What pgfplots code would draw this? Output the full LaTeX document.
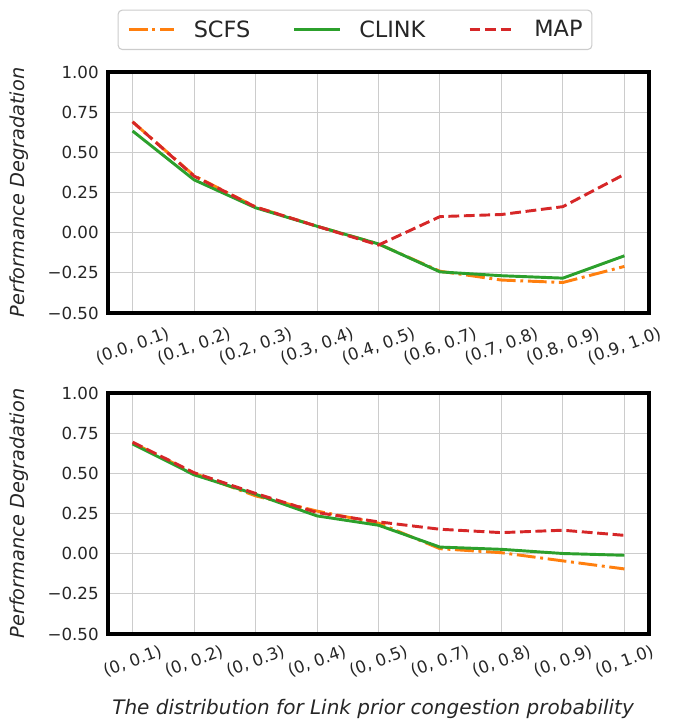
\documentclass[border=0pt]{standalone}
\usepackage{fontspec}
\setmainfont{DejaVu Sans}
\usepackage{pgfplots}
\pgfplotsset{compat=1.18}

\definecolor{scfs}{HTML}{FF7F0E}
\definecolor{clink}{HTML}{2CA02C}
\definecolor{mapc}{HTML}{D62728}
\definecolor{txt}{HTML}{262626}
\definecolor{gridc}{HTML}{CCCCCC}

\pgfplotsset{
  perf/.style={
    scale only axis,
    width=405.75pt, height=180.75pt,
    xmin=-0.4, xmax=8.4, ymin=-0.5, ymax=1.0,
    xtick={0,1,...,8},
    ytick={-0.5,-0.25,0,0.25,0.5,0.75,1.0},
    yticklabels={−0.50,−0.25,0.00,0.25,0.50,0.75,1.00},
    grid=major,
    grid style={gridc, line width=0.75pt},
    axis line style={draw=none},
    after end axis/.code={\draw[black, line width=2.3pt] (rel axis cs:0,0) rectangle (rel axis cs:1,1);},
    major tick length=0pt,
    tick label style={font=\fontsize{12.5}{15}\selectfont, text=txt},
    yticklabel style={xshift=-3.5pt},
    ylabel={Performance Degradation},
    ylabel style={font=\fontsize{14.5}{17}\selectfont\itshape, text=txt,
      at={(axis description cs:-0.1645,0.5)}, anchor=center},
  },
  scfsline/.style={scfs, line width=2.2pt, dash pattern=on 14.1pt off 3.5pt on 2.2pt off 3.5pt},
  clinkline/.style={clink, line width=2.2pt},
  mapline/.style={mapc, line width=2.2pt, dash pattern=on 8.1pt off 3.5pt},
}

\begin{document}
\begin{tikzpicture}
\begin{axis}[perf,
    xticklabels={{(0.0, 0.1)},{(0.1, 0.2)},{(0.2, 0.3)},{(0.3, 0.4)},{(0.4, 0.5)},{(0.6, 0.7)},{(0.7, 0.8)},{(0.8, 0.9)},{(0.9, 1.0)}},
    xticklabel style={yshift=-24.75pt, rotate=20, anchor=center},
    legend columns=3,
    legend style={at={(axis description cs:0.4566,1)}, anchor=south, yshift=16.5pt,
      draw=gridc, rounded corners=3pt, line width=0.8pt,
      font=\fontsize{16.8}{20}\selectfont, text=txt,
      inner xsep=7pt, inner ysep=7.75pt,
      nodes={inner sep=0pt},
      /tikz/every odd column/.append style={column sep=13.5pt},
      /tikz/every even column/.append style={column sep=32pt}},
    legend image code/.code={\draw[#1] (0pt,0pt) -- (34pt,0pt);},
  ]
\addplot[scfsline] coordinates {(0,0.69) (1,0.355) (2,0.16) (3,0.04) (4,-0.07) (5,-0.24) (6,-0.295) (7,-0.31) (8,-0.21)};
\addlegendentry{SCFS}
\addplot[clinkline] coordinates {(0,0.633) (1,0.329) (2,0.155) (3,0.04) (4,-0.07) (5,-0.244) (6,-0.268) (7,-0.283) (8,-0.144)};
\addlegendentry{CLINK}
\addplot[mapline] coordinates {(0,0.69) (1,0.352) (2,0.16) (3,0.04) (4,-0.077) (5,0.10) (6,0.113) (7,0.162) (8,0.363)};
\addlegendentry{MAP}
\end{axis}

\begin{axis}[perf, at={(0pt,-240.75pt)},
    xticklabels={{(0, 0.1)},{(0, 0.2)},{(0, 0.3)},{(0, 0.4)},{(0, 0.5)},{(0, 0.7)},{(0, 0.8)},{(0, 0.9)},{(0, 1.0)}},
    xticklabel style={yshift=-20.6pt, rotate=20, anchor=center},
    xlabel={The distribution for Link prior congestion probability},
    xlabel style={font=\fontsize{15}{18}\selectfont\itshape, text=txt,
      at={(axis description cs:0.49,-0.312)}, anchor=center},
  ]
\addplot[scfsline] coordinates {(0,0.69) (1,0.50) (2,0.36) (3,0.265) (4,0.19) (5,0.031) (6,0.006) (7,-0.045) (8,-0.095)};
\addplot[clinkline] coordinates {(0,0.683) (1,0.491) (2,0.37) (3,0.235) (4,0.177) (5,0.041) (6,0.027) (7,0.001) (8,-0.01)};
\addplot[mapline] coordinates {(0,0.694) (1,0.504) (2,0.375) (3,0.256) (4,0.198) (5,0.152) (6,0.131) (7,0.146) (8,0.114)};
\end{axis}
\pgfresetboundingbox
\path (-81pt,-306.75pt) rectangle (424.5pt,234.75pt);
\end{tikzpicture}
\end{document}
